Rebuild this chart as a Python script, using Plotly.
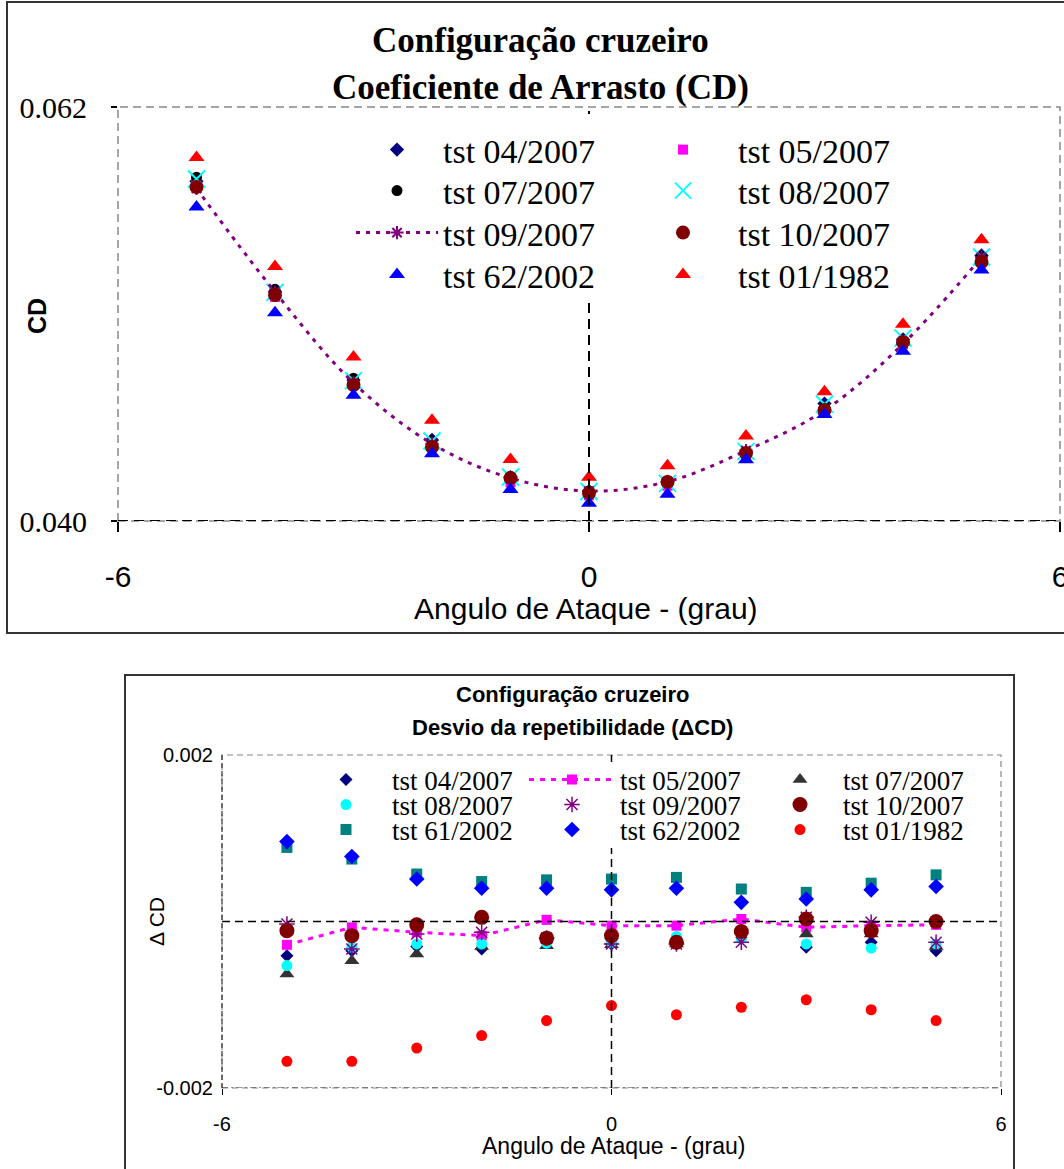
import plotly.graph_objects as go

W, H = 1064, 1169

# ---------------- data ----------------
angles = [-5, -4, -3, -2, -1, 0, 1, 2, 3, 4, 5]

# Top chart: drag coefficient CD
cd_04_2007 = [0.05805, 0.05219, 0.04749, 0.04431, 0.04233, 0.04159, 0.04209, 0.04364, 0.04624, 0.04965, 0.05411]
cd_05_2007 = [0.05792, 0.05191, 0.04732, 0.04415, 0.04206, 0.04137, 0.04187, 0.04346, 0.04600, 0.04945, 0.05380]
cd_07_2007 = [0.05827, 0.05231, 0.04758, 0.04428, 0.04237, 0.04160, 0.04209, 0.04360, 0.04608, 0.04955, 0.05406]
cd_08_2007 = [0.05817, 0.05215, 0.04746, 0.04425, 0.04234, 0.04157, 0.04200, 0.04370, 0.04620, 0.04972, 0.05403]
cd_09_2007 = [0.05767, 0.05217, 0.04734, 0.04411, 0.04228, 0.04159, 0.04209, 0.04374, 0.04588, 0.04941, 0.05401]
cd_10_2007 = [0.05775, 0.05201, 0.04723, 0.04393, 0.04228, 0.04149, 0.04207, 0.04361, 0.04590, 0.04951, 0.05376]
cd_62_2002 = [0.05668, 0.05106, 0.04668, 0.04358, 0.04168, 0.04094, 0.04142, 0.04326, 0.04566, 0.04902, 0.05334]
cd_01_1982 = [0.05932, 0.05352, 0.04871, 0.04535, 0.04327, 0.04233, 0.04294, 0.04452, 0.04687, 0.05046, 0.05495]

# Bottom chart: repeatability deviation ΔCD
dcd_04_2007 = [-0.00041, -0.00035, -0.00030, -0.00033, -0.00025, -0.00027, -0.00027, -0.00015, -0.00031, -0.00025, -0.00035]
dcd_05_2007 = [-0.00028, -0.00007, -0.00013, -0.00017, 0.00002, -0.00005, -0.00005, 0.00003, -0.00007, -0.00005, -0.00004]
dcd_07_2007 = [-0.00063, -0.00047, -0.00039, -0.00030, -0.00029, -0.00028, -0.00027, -0.00011, -0.00015, -0.00015, -0.00030]
dcd_08_2007 = [-0.00053, -0.00031, -0.00027, -0.00027, -0.00026, -0.00025, -0.00018, -0.00021, -0.00027, -0.00032, -0.00027]
dcd_09_2007 = [-0.00003, -0.00033, -0.00015, -0.00013, -0.00020, -0.00027, -0.00027, -0.00025, 0.00005, -0.00001, -0.00025]
dcd_10_2007 = [-0.00011, -0.00017, -0.00004, 0.00005, -0.00020, -0.00017, -0.00025, -0.00012, 0.00003, -0.00011, 0.00000]
dcd_61_2002 = [0.00089, 0.00075, 0.00057, 0.00048, 0.00050, 0.00051, 0.00053, 0.00039, 0.00035, 0.00046, 0.00056]
dcd_62_2002 = [0.00096, 0.00078, 0.00051, 0.00040, 0.00040, 0.00038, 0.00040, 0.00023, 0.00027, 0.00038, 0.00042]
dcd_01_1982 = [-0.00168, -0.00168, -0.00152, -0.00137, -0.00119, -0.00101, -0.00112, -0.00103, -0.00094, -0.00106, -0.00119]

x_ticks = [-6, 0, 6]
x_tick_text = ["-6", "0", "6"]
top_y_ticks = [0.040, 0.062]
top_y_tick_text = ["0.040", "0.062"]
bot_y_ticks = [-0.002, 0.002]
bot_y_tick_text = ["-0.002", "0.002"]

# ---------------- helpers ----------------
SERIF = "Liberation Serif, Times New Roman, serif"
SANS = "Liberation Sans, Arial, sans-serif"


def fx(p):
    return p / W


def fy(p):
    return 1 - p / H


fig = go.Figure()
legend_layouts = {}
legend_count = [0]


def add_series(name, x, y, xa, ya, marker, leg_x, leg_y, itemwidth, font_size,
               line=None):
    legend_count[0] += 1
    n = legend_count[0]
    lid = "legend" if n == 1 else f"legend{n}"
    kw = dict(x=x, y=y, name=name, xaxis=xa, yaxis=ya, legend=lid, marker=marker,
              showlegend=True)
    if line is not None:
        kw["mode"] = "lines+markers"
        kw["line"] = line
    else:
        kw["mode"] = "markers"
    fig.add_trace(go.Scatter(**kw))
    legend_layouts[lid] = dict(
        x=fx(leg_x), y=fy(leg_y), xanchor="left", yanchor="middle",
        bgcolor="rgba(0,0,0,0)", borderwidth=0, itemwidth=itemwidth,
        font=dict(family=SERIF, size=font_size, color="black"),
        tracegroupgap=0,
    )


# ---------------- top chart ----------------
TC1, TC2 = 351, 628
TR = [150, 191, 233, 275]
TFS = 34
add_series("tst 04/2007", angles, cd_04_2007, "x", "y",
           dict(symbol="diamond", color="#000080", size=11), TC1, TR[0], 82, TFS)
add_series("tst 05/2007", angles, cd_05_2007, "x", "y",
           dict(symbol="square", color="#FF00FF", size=10), TC2, TR[0], 100, TFS)
add_series("tst 07/2007", angles, cd_07_2007, "x", "y",
           dict(symbol="circle", color="#000000", size=11), TC1, TR[1], 82, TFS)
add_series("tst 08/2007", angles, cd_08_2007, "x", "y",
           dict(symbol="x-thin-open", color="#00FFFF", size=17,
                line=dict(color="#00FFFF", width=2)), TC2, TR[1], 100, TFS)
add_series("tst 09/2007", angles, cd_09_2007, "x", "y",
           dict(symbol="asterisk-open", color="#800080", size=11,
                line=dict(color="#800080", width=2)), TC1, TR[2], 82, TFS,
           line=dict(color="#800080", width=3, dash="4px,6px", shape="spline"))
add_series("tst 10/2007", angles, cd_10_2007, "x", "y",
           dict(symbol="circle", color="#800000", size=14), TC2, TR[2], 100, TFS)
add_series("tst 62/2002", angles, cd_62_2002, "x", "y",
           dict(symbol="triangle-up", color="#0000FF", size=14), TC1, TR[3], 82, TFS)
add_series("tst 01/1982", angles, cd_01_1982, "x", "y",
           dict(symbol="triangle-up", color="#FF0000", size=14), TC2, TR[3], 100, TFS)

# ---------------- bottom chart ----------------
BC1, BC2, BC3 = 300, 524, 757
BR = [780, 805, 830]
BFS = 27
add_series("tst 04/2007", angles, dcd_04_2007, "x2", "y2",
           dict(symbol="diamond", color="#000080", size=10), BC1, BR[0], 82, BFS)
add_series("tst 05/2007", angles, dcd_05_2007, "x2", "y2",
           dict(symbol="square", color="#FF00FF", size=10), BC2, BR[0], 86, BFS,
           line=dict(color="#FF00FF", width=3, dash="5px,6px"))
add_series("tst 07/2007", angles, dcd_07_2007, "x2", "y2",
           dict(symbol="triangle-up", color="#333333", size=13), BC3, BR[0], 76, BFS)
add_series("tst 08/2007", angles, dcd_08_2007, "x2", "y2",
           dict(symbol="circle", color="#00FFFF", size=11), BC1, BR[1], 82, BFS)
add_series("tst 09/2007", angles, dcd_09_2007, "x2", "y2",
           dict(symbol="asterisk-open", color="#800080", size=13,
                line=dict(color="#800080", width=1.5)), BC2, BR[1], 86, BFS)
add_series("tst 10/2007", angles, dcd_10_2007, "x2", "y2",
           dict(symbol="circle", color="#800000", size=15), BC3, BR[1], 76, BFS)
add_series("tst 61/2002", angles, dcd_61_2002, "x2", "y2",
           dict(symbol="square", color="#008080", size=11), BC1, BR[2], 82, BFS)
add_series("tst 62/2002", angles, dcd_62_2002, "x2", "y2",
           dict(symbol="diamond", color="#0000FF", size=12), BC2, BR[2], 86, BFS)
add_series("tst 01/1982", angles, dcd_01_1982, "x2", "y2",
           dict(symbol="circle", color="#FF0000", size=11), BC3, BR[2], 76, BFS)

# ---------------- axes ----------------
fig.update_layout(
    width=W, height=H, margin=dict(l=0, r=0, t=0, b=0, pad=0, autoexpand=False),
    showlegend=True,
    paper_bgcolor="white", plot_bgcolor="white",
    xaxis=dict(domain=[fx(118), fx(1060)], range=[-6, 6], anchor="y",
               tickvals=x_ticks, ticktext=x_tick_text, showgrid=False, zeroline=False,
               showline=False, ticks="outside", ticklen=10, tickwidth=1.5, tickcolor="black",
               ticklabelstandoff=19, ticklabeloverflow="allow",
               tickfont=dict(family=SANS, size=30, color="black")),
    yaxis=dict(domain=[fy(521), fy(107)], range=[0.040, 0.062], anchor="x",
               tickvals=top_y_ticks, ticktext=top_y_tick_text, showgrid=False, zeroline=False,
               showline=False, ticks="outside", ticklen=6, tickwidth=1.5, tickcolor="black",
               ticklabelstandoff=18, ticklabeloverflow="allow",
               tickfont=dict(family=SERIF, size=30, color="black")),
    xaxis2=dict(domain=[fx(222), fx(1001)], range=[-6, 6], anchor="y2",
                tickvals=x_ticks, ticktext=x_tick_text, showgrid=False, zeroline=False,
                showline=False, ticks="outside", ticklen=6, tickwidth=1, tickcolor="black",
                ticklabelstandoff=12, ticklabeloverflow="allow",
                tickfont=dict(family=SANS, size=20, color="black")),
    yaxis2=dict(domain=[fy(1088), fy(755)], range=[-0.002, 0.002], anchor="x2",
                tickvals=bot_y_ticks, ticktext=bot_y_tick_text, showgrid=False, zeroline=False,
                showline=False, ticks="", ticklabelstandoff=8, ticklabeloverflow="allow",
                tickfont=dict(family=SANS, size=20, color="black")),
    **legend_layouts,
)

# ---------------- frames & reference lines ----------------
shapes = [
    # outer frames
    dict(type="rect", xref="paper", yref="paper", x0=fx(7), x1=fx(1075), y0=fy(633), y1=fy(2),
         line=dict(color="#333333", width=2)),
    dict(type="rect", xref="paper", yref="paper", x0=fx(125), x1=fx(1014), y0=fy(1185), y1=fy(675),
         line=dict(color="#333333", width=2)),
    # top plot border
    dict(type="rect", xref="x domain", yref="y domain", x0=0, x1=1, y0=0, y1=1,
         line=dict(color="#888888", width=1.5, dash="8px,5px")),
    dict(type="line", xref="x domain", yref="y", x0=0, x1=1, y0=0.040, y1=0.040,
         line=dict(color="black", width=2, dash="10px,6px")),
    dict(type="line", xref="x", yref="y domain", x0=0, x1=0, y0=0, y1=1,
         line=dict(color="black", width=2, dash="10px,6px")),
    # top legend background (hides the zero line behind the legend)
    dict(type="rect", xref="paper", yref="paper", x0=fx(345), x1=fx(905), y0=fy(297), y1=fy(114),
         line=dict(width=0), fillcolor="white", layer="above"),
    # bottom plot border
    dict(type="rect", xref="x2 domain", yref="y2 domain", x0=0, x1=1, y0=0, y1=1,
         line=dict(color="#888888", width=1.2, dash="6px,4px")),
    dict(type="line", xref="x2 domain", yref="y2", x0=0, x1=1, y0=-0.002, y1=-0.002,
         line=dict(color="#333333", width=1.2, dash="6px,3px,2px,3px")),
    dict(type="line", xref="x2 domain", yref="y2 domain", x0=0, x1=0, y0=0, y1=1,
         line=dict(color="#333333", width=1.2, dash="5px,3px")),
    dict(type="line", xref="x2 domain", yref="y2", x0=0, x1=1, y0=0, y1=0,
         line=dict(color="black", width=1.5, dash="8px,5px")),
    dict(type="line", xref="x2", yref="y2 domain", x0=0, x1=0, y0=0, y1=1,
         line=dict(color="black", width=1.5, dash="8px,5px")),
    # bottom legend background
    dict(type="rect", xref="paper", yref="paper", x0=fx(296), x1=fx(985), y0=fy(848), y1=fy(762),
         line=dict(width=0), fillcolor="white", layer="above"),
]
fig.update_layout(shapes=shapes)

# ---------------- titles ----------------
ann = [
    dict(text="<b>Configuração cruzeiro</b>", x=fx(540), y=fy(40),
         font=dict(family=SERIF, size=35, color="black")),
    dict(text="<b>Coeficiente de Arrasto (CD)</b>", x=fx(540), y=fy(87),
         font=dict(family=SERIF, size=35, color="black")),
    dict(text="Angulo de Ataque - (grau)", x=fx(586), y=fy(608),
         font=dict(family=SANS, size=30, color="black")),
    dict(text="<b>CD</b>", x=fx(37), y=fy(316), textangle=-90,
         font=dict(family=SANS, size=25, color="black")),
    dict(text="<b>Configuração cruzeiro</b>", x=fx(572), y=fy(694),
         font=dict(family=SANS, size=22, color="black")),
    dict(text="<b>Desvio da repetibilidade (ΔCD)</b>", x=fx(572), y=fy(727),
         font=dict(family=SANS, size=22, color="black")),
    dict(text="Angulo de Ataque - (grau)", x=fx(613), y=fy(1146),
         font=dict(family=SANS, size=23, color="black")),
    dict(text="Δ CD", x=fx(156), y=fy(922), textangle=-90,
         font=dict(family=SANS, size=21, color="black")),
]
for a in ann:
    a.update(xref="paper", yref="paper", showarrow=False, xanchor="center", yanchor="middle")
fig.update_layout(annotations=ann)

fig.write_html("out.html")
